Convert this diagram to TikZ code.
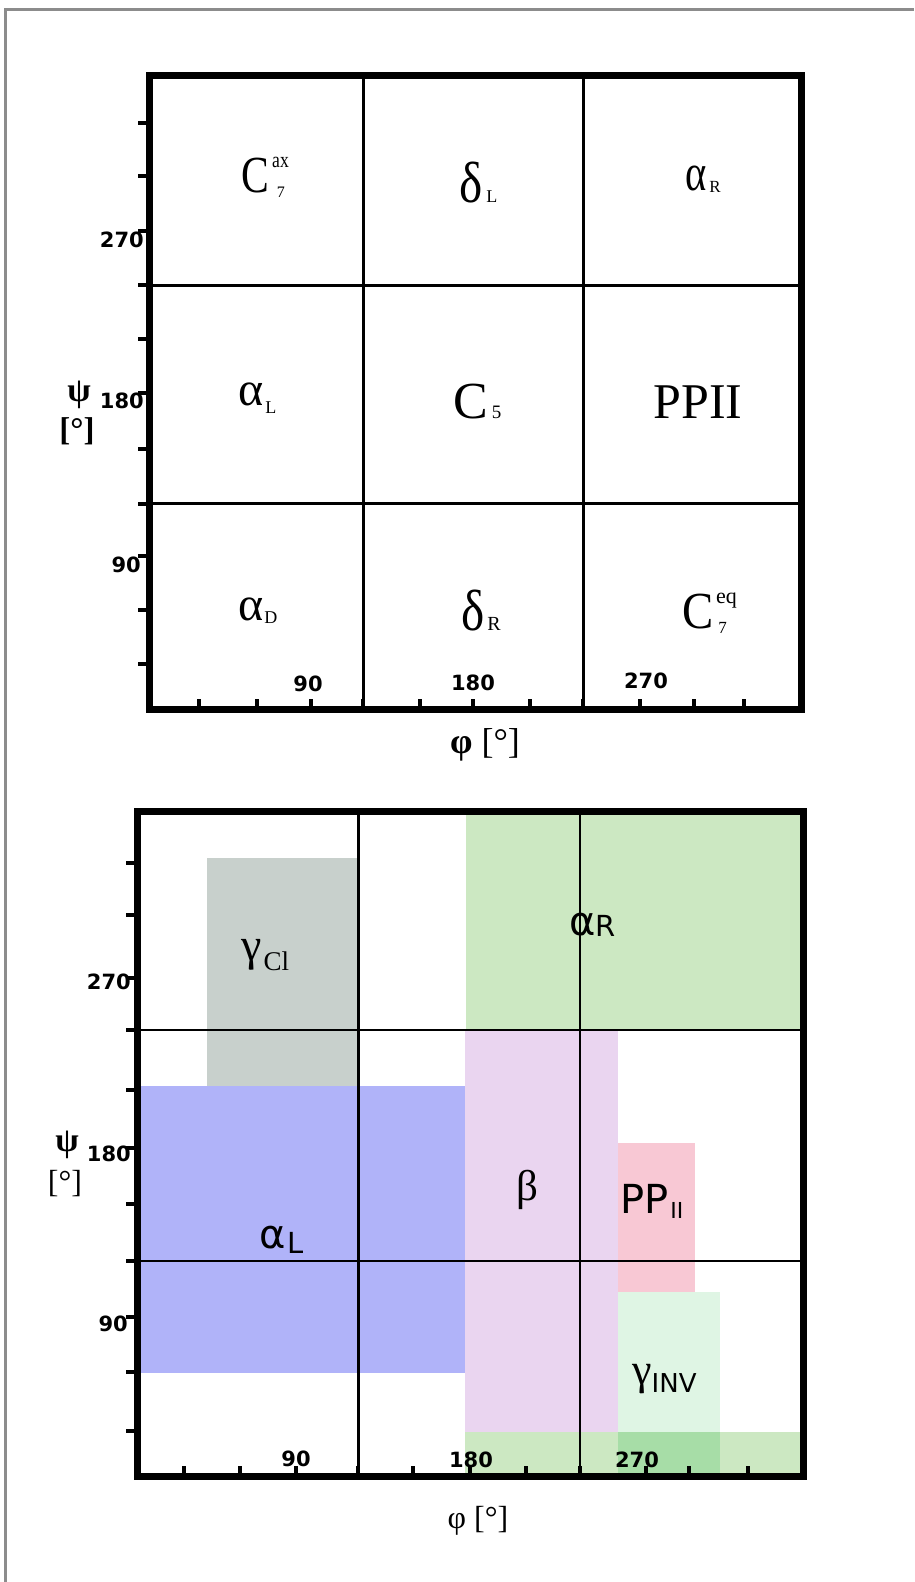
\documentclass[tikz,border=0pt]{standalone}
\usepackage{fontspec}
\usepackage{graphicx}
\setmainfont{Liberation Serif}
\newfontfamily\dvs{DejaVu Sans}
\newcommand\fs[1]{\fontsize{#1}{#1}\selectfont}
\definecolor{frameg}{HTML}{8C8C8C}
\definecolor{cblue}{HTML}{B0B3F9}
\definecolor{cgray}{HTML}{C8D0CC}
\definecolor{cgreen}{HTML}{CCE8C2}
\definecolor{cpink}{HTML}{EAD5F0}
\definecolor{cred}{HTML}{F8C8D4}
\definecolor{clgreen}{HTML}{DFF5E4}
\definecolor{cdgreen}{HTML}{A7DDA7}
\tikzset{
  axisline/.style={line width=7pt, line cap=rect},
  gridA/.style={line width=3pt},
  gridB/.style={line width=2.2pt},
  tickmark/.style={line width=4pt},
  num/.style={inner sep=0pt, font=\dvs\bfseries\fs{21}},
  lab/.style={inner sep=0pt}
}
\begin{document}
\begin{tikzpicture}[x=1pt,y=-1pt]
\useasboundingbox (0,0) rectangle (914,1582);
\fill[white] (0,0) rectangle (914,1582);
% outer gray frame
\draw[frameg, line width=3pt] (5.5,1582) -- (5.5,9.5) -- (914,9.5);

% ================= TOP PLOT =================
\draw[gridA] (363,75) -- (363,709);
\draw[gridA] (583,75) -- (583,709);
\draw[gridA] (149,285) -- (801,285);
\draw[gridA] (149,503) -- (801,503);
\draw[axisline] (149.5,75) rectangle (801.5,709.5);
\foreach \yy in {123,176,231,285,339,393,449,504,556,610,664}
  \draw[tickmark] (138,\yy) -- (146,\yy);
\foreach \xx in {199,257,311,363,420,473,530,583,640,694,744}
  \draw[tickmark] (\xx,706) -- (\xx,699);

\node[num, anchor=east] (t270) at (144,240) {270};
\node[num, anchor=east] (t180) at (144,401) {180};
\node[num, anchor=east] (t90)  at (141,565) {90};
\node[num] (b90)  at (308,684) {90};
\node[num] (b180) at (473,683) {180};
\node[num] (b270) at (646,681) {270};

\node[lab, anchor=base] (psiA) at (79,401) {\bfseries\fs{34}ψ};
\node[lab, anchor=base] (degA) at (77,440) {\bfseries\fs{33}[°]};
\node[lab, anchor=base] (phiA) at (485,753) {\fs{36}\textbf{φ} [°]};

\node[lab, anchor=base west] (c7ax) at (241,192)
  {{\fs{52}\scalebox{0.8}[1]{C}}\hspace{8pt}\raisebox{-5pt}{\fs{16}7}};
\node[lab, anchor=base west] (c7axsup) at (272,167)
  {\fs{22}\scalebox{0.8}[1]{ax}};
\node[lab, anchor=base west] (dL) at (459,202)
  {{\fs{58}\scalebox{0.85}[1]{δ}}\hspace{4pt}{\fs{18}L}};
\node[lab, anchor=base west] (aR) at (685,190)
  {{\fs{52}\scalebox{0.78}[1]{α}}\hspace{3pt}\raisebox{-2pt}{\fs{17}R}};
\node[lab, anchor=base west] (aL) at (238,405)
  {{\fs{48}α}\hspace{2pt}\raisebox{-8pt}{\fs{18}L}};
\node[lab, anchor=base west] (c5) at (453,418)
  {{\fs{52}C}\hspace{4pt}{\fs{19}5}};
\node[lab, anchor=base] (ppii) at (698,418) {\fs{50}PPII};
\node[lab, anchor=base west] (aD) at (238,620)
  {{\fs{48}α}\hspace{1pt}\raisebox{-3pt}{\fs{18}D}};
\node[lab, anchor=base west] (dR) at (461,630)
  {{\fs{58}\scalebox{0.85}[1]{δ}}\hspace{3pt}{\fs{20}R}};
\node[lab, anchor=base west] (c7eq) at (682,628)
  {{\fs{52}\scalebox{0.9}[1]{C}}\hspace{5pt}\raisebox{-5pt}{\fs{17}7}};
\node[lab, anchor=base west] (c7eqsup) at (716,603) {\fs{22}eq};

% ================= BOTTOM PLOT =================
\fill[cgreen]  (466,815) rectangle (801,1030);
\fill[cgray]   (207,858) rectangle (358,1086);
\fill[cblue]   (141,1086) rectangle (465,1373);
\fill[cpink]   (465,1030) rectangle (618,1432);
\fill[cred]    (618,1143) rectangle (695,1292);
\fill[clgreen] (618,1292) rectangle (720,1432);
\fill[cgreen]  (465,1432) rectangle (801,1473);
\fill[cdgreen] (618,1432) rectangle (720,1473);

\draw[gridB] (358.5,811) -- (358.5,1476);
\draw[gridB] (580,811) -- (580,1476);
\draw[gridB] (137,1030) -- (803,1030);
\draw[gridB] (137,1261) -- (803,1261);
\draw[axisline] (137,811.5) rectangle (803.5,1476.5);
\foreach \yy in {863,915,978,1030,1090,1148,1204,1261,1317,1372,1431}
  \draw[tickmark] (126,\yy) -- (134,\yy);
\foreach \xx in {184,240,296,358,413,470,526,580,646,689,748}
  \draw[tickmark] (\xx,1473) -- (\xx,1466);

\node[num, anchor=east] (u270) at (131,982) {270};
\node[num, anchor=east] (u180) at (131,1154) {180};
\node[num, anchor=east] (u90)  at (128,1324) {90};
\node[num] (v90)  at (296,1459) {90};
\node[num] (v180) at (471,1460) {180};
\node[num] (v270) at (637,1460) {270};

\node[lab, anchor=base] (psiB) at (67,1151) {\bfseries\fs{34}ψ};
\node[lab, anchor=base] (degB) at (65,1192) {\fs{32}[°]};
\node[lab, anchor=base] (phiB) at (478,1528) {\fs{32}φ [°]};

\node[lab, anchor=base west] (gCl) at (241,960)
  {{\fs{46}γ}\hspace{2pt}\raisebox{-10pt}{\fs{27}Cl}};
\node[lab, anchor=base west] (aRb) at (569,935)
  {{\dvs\fs{40}α}\raisebox{-1pt}{\dvs\fs{29}R}};
\node[lab, anchor=base west] (aLb) at (259,1248)
  {{\dvs\fs{40}α}\hspace{2pt}\raisebox{-5pt}{\dvs\fs{29}L}};
\node[lab, anchor=base] (beta) at (527,1200) {\fs{43}β};
\node[lab, anchor=base west] (ppiib) at (620,1213)
  {{\dvs\fs{40}PP}\hspace{2pt}\raisebox{-5pt}{\dvs\fs{22}II}};
\node[lab, anchor=base west] (ginv) at (632,1384)
  {{\fs{44}γ}\raisebox{-8pt}{\dvs\fs{26}INV}};
\end{tikzpicture}
\end{document}
